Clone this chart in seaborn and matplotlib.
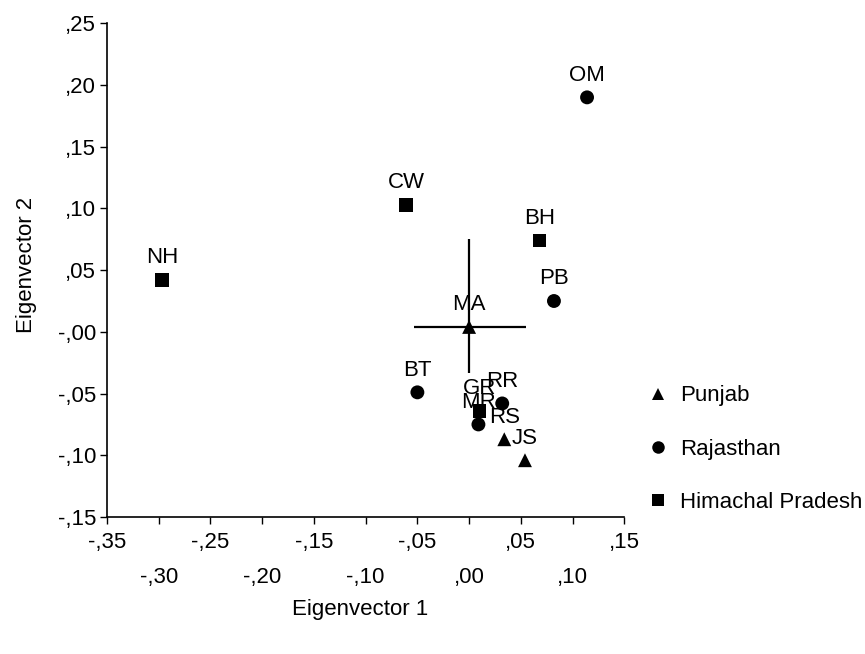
import numpy as np
import pandas as pd
import seaborn as sns
import matplotlib.pyplot as plt

# population codes, region and scores on the first two eigenvectors
codes = ['MA', 'RS', 'JS', 'OM', 'PB', 'BT', 'RR', 'MR', 'NH', 'CW', 'BH', 'GR']
regions = ['Punjab'] * 3 + ['Rajasthan'] * 5 + ['Himachal Pradesh'] * 4
ev1 = [0.000, 0.034, 0.054, 0.114, 0.082, -0.050, 0.032, 0.009, -0.297, -0.061, 0.068, 0.010]
ev2 = [0.004, -0.087, -0.104, 0.190, 0.025, -0.049, -0.058, -0.075, 0.042, 0.103, 0.074, -0.064]

# spread drawn around MA (left, right) and (down, up)
ma_xerr = [0.053, 0.055]
ma_yerr = [0.037, 0.071]

region_order = ['Punjab', 'Rajasthan', 'Himachal Pradesh']
region_markers = {'Punjab': '^', 'Rajasthan': 'o', 'Himachal Pradesh': 's'}

x_row1 = [-0.35, -0.25, -0.15, -0.05, 0.05, 0.15]
x_row1_labels = ['-,35', '-,25', '-,15', '-,05', ',05', ',15']
x_row2 = [-0.30, -0.20, -0.10, 0.00, 0.10]
x_row2_labels = ['-,30', '-,20', '-,10', ',00', ',10']
y_ticks = [-0.15, -0.10, -0.05, 0.00, 0.05, 0.10, 0.15, 0.20, 0.25]
y_tick_labels = ['-,15', '-,10', '-,05', '-,00', ',05', ',10', ',15', ',20', ',25']

df = pd.DataFrame({'code': codes, 'region': regions, 'ev1': ev1, 'ev2': ev2})

sns.set_style('ticks')
plt.rcParams['font.family'] = ['Liberation Sans', 'DejaVu Sans']
plt.rcParams['font.size'] = 16
plt.rcParams['text.color'] = 'black'
plt.rcParams['axes.labelcolor'] = 'black'
plt.rcParams['xtick.color'] = 'black'
plt.rcParams['ytick.color'] = 'black'

fig = plt.figure(figsize=(8.65, 6.54), dpi=100)
ax = fig.add_axes([107 / 865, 1 - 517 / 654, 517.3 / 865, 493.7 / 654])

ma = df[df['code'] == 'MA'].iloc[0]
ax.errorbar(ma['ev1'], ma['ev2'], xerr=[[ma_xerr[0]], [ma_xerr[1]]],
            yerr=[[ma_yerr[0]], [ma_yerr[1]]], fmt='none', ecolor='black',
            elinewidth=1.6, capsize=0, zorder=2)

sns.scatterplot(data=df, x='ev1', y='ev2', style='region', style_order=region_order,
                markers=region_markers, color='black', s=100, linewidth=0,
                ax=ax, zorder=3)

for _, r in df.iterrows():
    ax.annotate(r['code'], (r['ev1'], r['ev2']), xytext=(0, 16),
                textcoords='offset points', ha='center', va='center', fontsize=16)

ax.set_xlim(-0.35, 0.15)
ax.set_ylim(-0.15, 0.25)
ax.set_xticks(x_row1)
ax.set_xticklabels(x_row1_labels)
ax.set_xticks(x_row2, minor=True)
ax.set_xticklabels(x_row2_labels, minor=True)
ax.set_yticks(y_ticks)
ax.set_yticklabels(y_tick_labels)
ax.tick_params(axis='x', which='major', length=5, width=1, pad=6, labelsize=16)
ax.tick_params(axis='x', which='minor', length=5, width=1, pad=31, labelsize=16)
ax.tick_params(axis='y', length=5, width=1, pad=3, labelsize=16)
sns.despine(ax=ax)
for s in ['left', 'bottom']:
    ax.spines[s].set_color('black')
    ax.spines[s].set_linewidth(1.2)

ax.set_xlabel('Eigenvector 1', fontsize=16)
ax.set_ylabel('Eigenvector 2', fontsize=16)
ax.xaxis.set_label_coords(0.49, -0.167)
ax.yaxis.set_label_coords(-0.135, 0.51)

handles, labels = ax.get_legend_handles_labels()
ax.get_legend().remove()
for h in handles:
    h.set_markersize(9)
fig.legend(handles, labels, loc='center left', bbox_to_anchor=(0.722, 1 - 449 / 654),
           frameon=False, handletextpad=0.4, labelspacing=1.45, handlelength=1.2,
           fontsize=16)

fig.savefig('out.png', dpi=100)
